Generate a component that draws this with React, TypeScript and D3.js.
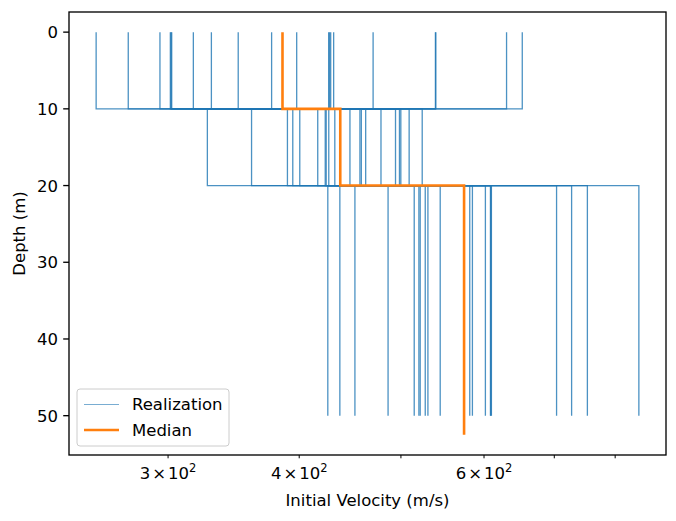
import React from 'react';
import * as d3 from 'd3';

// Layer boundaries (m) and the velocity of each layer per realization (m/s)
const layerTops = [0, 10, 20];
const profileBottom = 50;
const medianBottom = 52.5;

const layer1Vel = [302.4, 539.3, 256.2, 427.5, 376.5, 652.5, 317.1, 428.6, 294.7, 470.4, 301.5, 630.4, 349.9, 431.4, 274.9, 539.8, 397.8, 302.0, 426.7, 329.9];
const layer2Vel = [432.5, 457.0, 494.1, 389.8, 523.9, 416.6, 447.1, 360.3, 499.9, 424.4, 462.8, 327.0, 509.1, 394.4, 478.6, 426.8, 400.5, 498.4, 423.5, 458.4];
const layer3Vel = [601.8, 437.3, 727.1, 520.1, 452.0, 842.7, 609.0, 527.4, 486.1, 703.5, 584.9, 545.0, 425.9, 752.7, 514.8, 609.8, 530.5, 608.5, 581.5, 521.6];
const medianVel = [385.6, 437.7, 574.3];

const xTicks = [300, 400, 500, 600, 700, 800];
const xTickLabels: Record<number, string> = { 300: '3', 400: '4', 600: '6' };
const yTicks = [0, 10, 20, 30, 40, 50];

const W = 676;
const H = 521;
const m = { left: 69, right: 10, top: 12, bottom: 66 };
const FONT = 'DejaVu Sans, sans-serif';
const BLUE = '#1f77b4';
const ORANGE = '#ff7f0e';

type Pt = [number, number];

function stepProfile(vels: number[], bottom: number): Pt[] {
  const pts: Pt[] = [];
  vels.forEach((v, i) => {
    const top = layerTops[i];
    const bot = i + 1 < layerTops.length ? layerTops[i + 1] : bottom;
    pts.push([v, top], [v, bot]);
  });
  return pts;
}

export default function App() {
  const allVel = [...layer1Vel, ...layer2Vel, ...layer3Vel, ...medianVel];
  const lmin = Math.log10(d3.min(allVel)!);
  const lmax = Math.log10(d3.max(allVel)!);
  const pad = (lmax - lmin) * 0.05;
  const x = d3.scaleLog()
    .domain([Math.pow(10, lmin - pad), Math.pow(10, lmax + pad)])
    .range([m.left, W - m.right]);
  const yPad = medianBottom * 0.05;
  const y = d3.scaleLinear()
    .domain([-yPad, medianBottom + yPad])
    .range([m.top, H - m.bottom]);

  const line = d3.line<Pt>().x(d => x(d[0])).y(d => y(d[1]));
  const realizations = layer1Vel.map((v, i) => stepProfile([v, layer2Vel[i], layer3Vel[i]], profileBottom));
  const median = stepProfile(medianVel, medianBottom);

  const x0 = m.left, x1 = W - m.right, y0 = m.top, y1 = H - m.bottom;
  const lg = { x: 77, y: 389, w: 152, h: 57 };

  return (
    <div style={{ position: 'absolute', left: 0, top: 0 }}>
      <svg width={W} height={H} style={{ display: 'block', background: '#fff' }} fontFamily={FONT}>
        <defs>
          <clipPath id="plot"><rect x={x0} y={y0} width={x1 - x0} height={y1 - y0} /></clipPath>
        </defs>
        <g clipPath="url(#plot)" fill="none">
          {realizations.map((pts, i) => (
            <path key={i} d={line(pts)!} stroke={BLUE} strokeWidth={1.3} strokeOpacity={0.8} />
          ))}
          <path d={line(median)!} stroke={ORANGE} strokeWidth={2.6} />
        </g>

        {/* frame */}
        <rect x={x0} y={y0} width={x1 - x0} height={y1 - y0} fill="none" stroke="#000" strokeWidth={1.33} />

        {/* x ticks (log minor) */}
        {xTicks.map(t => (
          <g key={t} transform={`translate(${x(t)},${y1})`}>
            <line y2={3.3} stroke="#000" strokeWidth={1} />
            {xTickLabels[t] && (
              <text y={24} textAnchor="middle" fontSize={16.5} fill="#000">
                {xTickLabels[t]}<tspan dx={2}>×</tspan><tspan dx={2}>10</tspan>
                <tspan dy={-7} fontSize={11.5}>2</tspan>
              </text>
            )}
          </g>
        ))}
        <text x={(x0 + x1) / 2} y={506} textAnchor="middle" fontSize={16.5} fill="#000">Initial Velocity (m/s)</text>

        {/* y ticks */}
        {yTicks.map(t => (
          <g key={t} transform={`translate(${x0},${y(t)})`}>
            <line x2={-5.8} stroke="#000" strokeWidth={1.33} />
            <text x={-11} dy="0.36em" textAnchor="end" fontSize={16.5} fill="#000">{t}</text>
          </g>
        ))}
        <text transform={`translate(25,${(y0 + y1) / 2}) rotate(-90)`} textAnchor="middle" fontSize={16.5} fill="#000">Depth (m)</text>

        {/* legend */}
        <g>
          <rect x={lg.x} y={lg.y} width={lg.w} height={lg.h} rx={3} fill="#fff" fillOpacity={0.8} stroke="#ccc" strokeWidth={1} />
          <line x1={lg.x + 7} x2={lg.x + 42} y1={lg.y + 15.5} y2={lg.y + 15.5} stroke={BLUE} strokeWidth={1} strokeOpacity={0.6} />
          <text x={lg.x + 55} y={lg.y + 21} fontSize={16.5} fill="#000">Realization</text>
          <line x1={lg.x + 7} x2={lg.x + 42} y1={lg.y + 41} y2={lg.y + 41} stroke={ORANGE} strokeWidth={2.6} />
          <text x={lg.x + 55} y={lg.y + 47} fontSize={16.5} fill="#000">Median</text>
        </g>
      </svg>
    </div>
  );
}
